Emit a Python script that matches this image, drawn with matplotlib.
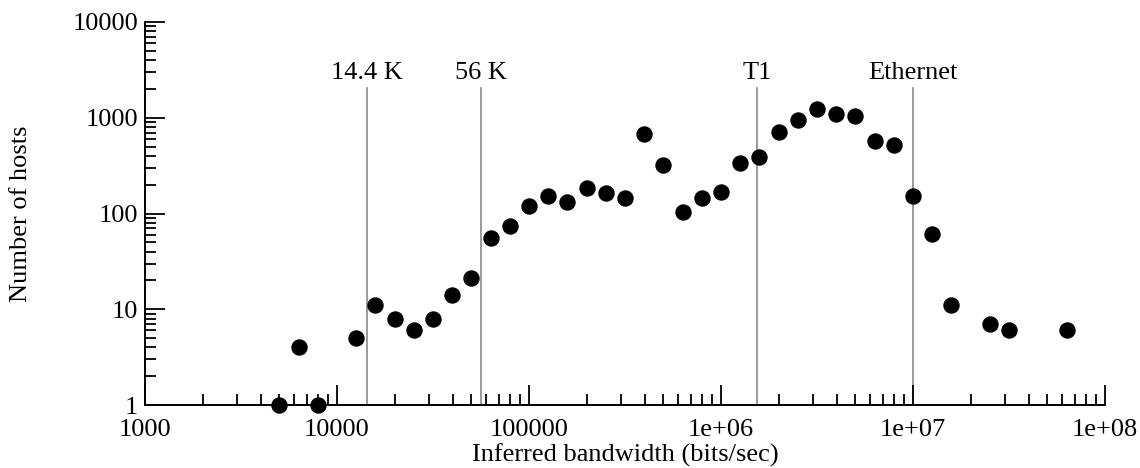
import matplotlib
matplotlib.use("Agg")
import matplotlib.pyplot as plt
import matplotlib.ticker as mticker
import numpy as np

# histogram of inferred bandwidth, bins 10^0.1 apart
bandwidth = [10**3.7, 10**3.8, 10**3.9, 10**4.1, 10**4.2, 10**4.3, 10**4.4, 10**4.5,
             10**4.6, 10**4.7, 10**4.8, 10**4.9, 10**5.0, 10**5.1, 10**5.2, 10**5.3,
             10**5.4, 10**5.5, 10**5.6, 10**5.7, 10**5.8, 10**5.9, 10**6.0, 10**6.1,
             10**6.2, 10**6.3, 10**6.4, 10**6.5, 10**6.6, 10**6.7, 10**6.8, 10**6.9,
             10**7.0, 10**7.1, 10**7.2, 10**7.4, 10**7.5, 10**7.8]
hosts = [1, 4, 1, 5, 11, 8, 6, 8, 14, 21, 56, 74, 120, 153, 131, 186,
         164, 145, 670, 319, 103, 145, 169, 339, 389, 715, 955, 1234,
         1087, 1051, 567, 515, 153, 61, 11, 7, 6, 6]

ref_lines = [14400, 56000, 1544000, 1e7]
ref_labels = ["14.4 K", "56 K", "T1", "Ethernet"]

x_ticks = [1e3, 1e4, 1e5, 1e6, 1e7, 1e8]
x_ticklabels = ["1000", "10000", "100000", "1e+06", "1e+07", "1e+08"]
y_ticks = [1, 10, 100, 1000, 10000]
y_ticklabels = ["1", "10", "100", "1000", "10000"]

plt.rcParams['font.family'] = ['Liberation Serif', 'DejaVu Serif']
fs = 19

fig = plt.figure(figsize=(11.4, 4.68), dpi=100)
ax = fig.add_axes([0.1272, 0.1346, 0.9693 - 0.1272, 0.953 - 0.1346])

for xv, lab in zip(ref_lines, ref_labels):
    ax.plot([xv, xv], [1, 2050], color='#888888', lw=1.2, zorder=1)
    ax.annotate(lab, xy=(xv, 2050), xytext=(0, 3), textcoords='offset points',
                ha='center', va='bottom', fontsize=fs)

ax.plot(bandwidth, hosts, 'o', color='black', markersize=10.8, zorder=3, clip_on=False)

ax.set_xscale('log')
ax.set_yscale('log')
ax.set_xlim(1e3, 1e8)
ax.set_ylim(1, 1e4)

ax.xaxis.set_major_locator(mticker.FixedLocator(x_ticks))
ax.xaxis.set_major_formatter(mticker.FixedFormatter(x_ticklabels))
ax.yaxis.set_major_locator(mticker.FixedLocator(y_ticks))
ax.yaxis.set_major_formatter(mticker.FixedFormatter(y_ticklabels))
ax.xaxis.set_minor_locator(mticker.LogLocator(base=10, subs=np.arange(2, 10)))
ax.yaxis.set_minor_locator(mticker.LogLocator(base=10, subs=np.arange(2, 10)))
ax.xaxis.set_minor_formatter(mticker.NullFormatter())
ax.yaxis.set_minor_formatter(mticker.NullFormatter())

for s in ['top', 'right']:
    ax.spines[s].set_visible(False)
for s in ['left', 'bottom']:
    ax.spines[s].set_linewidth(1.4)

ax.tick_params(which='major', direction='in', length=14.4, width=1.3, labelsize=fs)
ax.tick_params(which='minor', direction='in', length=7.9, width=1.3)
ax.tick_params(axis='x', which='major', pad=10)
ax.tick_params(axis='y', which='major', pad=5)

ax.set_xlabel("Inferred bandwidth (bits/sec)", fontsize=fs, labelpad=2)
ax.set_ylabel("Number of hosts", fontsize=fs, labelpad=29)

fig.savefig("out.png", dpi=100)
